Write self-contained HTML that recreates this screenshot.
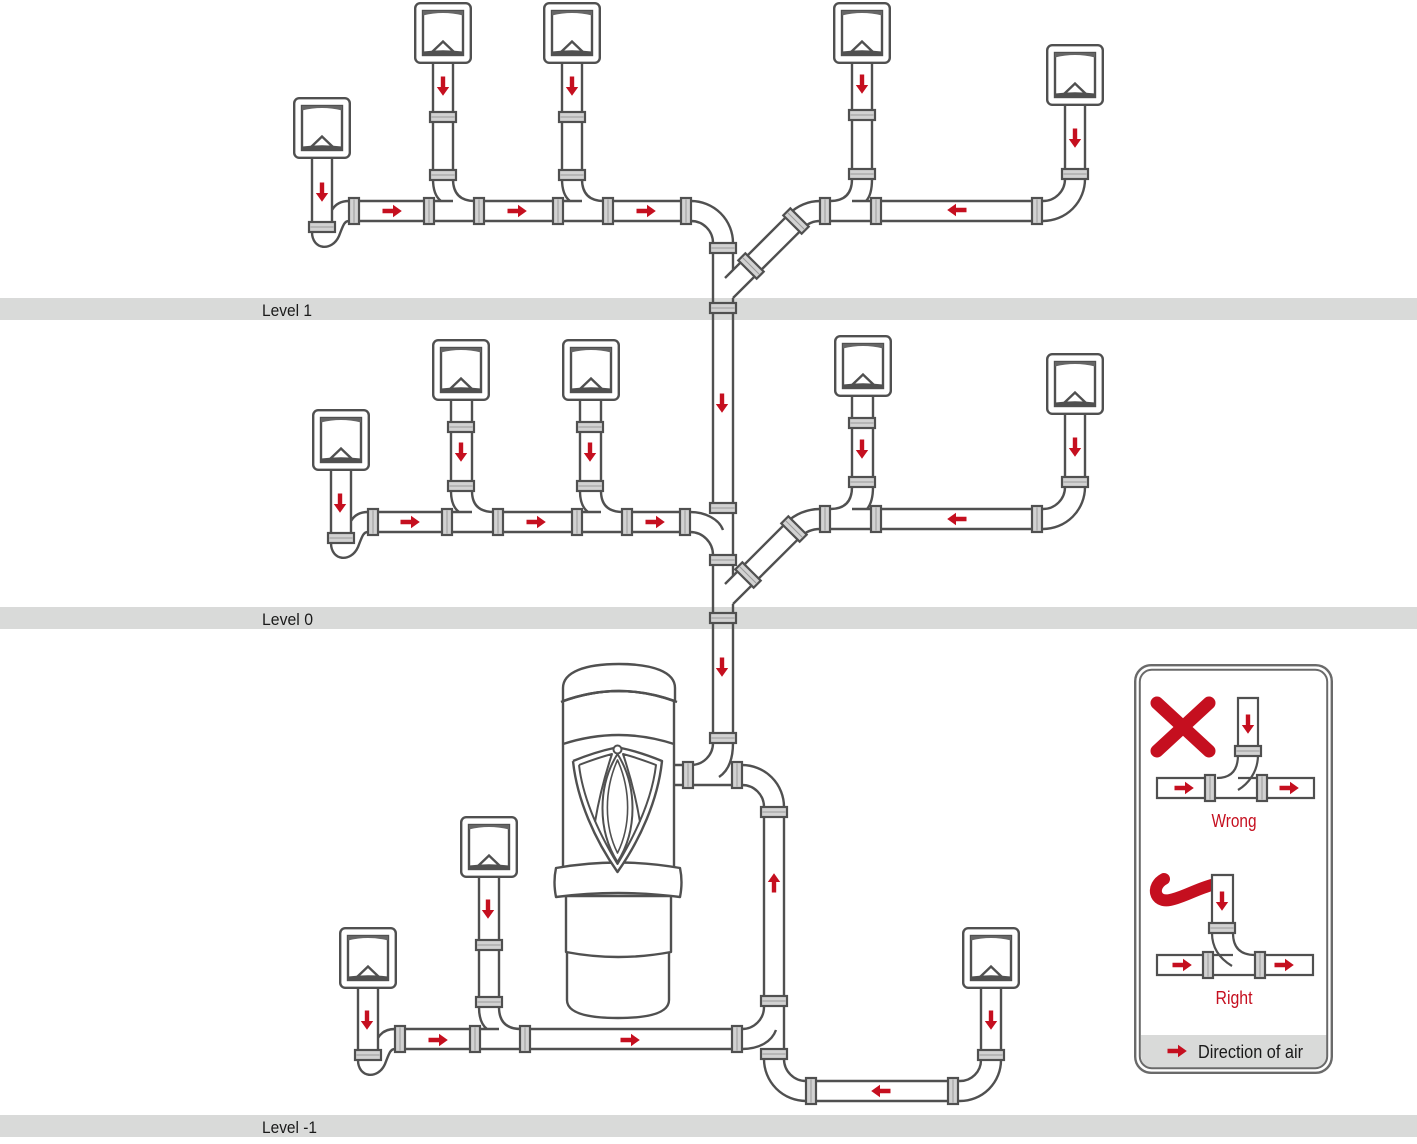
<!DOCTYPE html>
<html>
<head>
<meta charset="utf-8">
<style>
html,body{margin:0;padding:0;background:#fff;}
body{width:1417px;height:1144px;overflow:hidden;}
svg{display:block;}
text{font-family:"Liberation Sans", "DejaVu Sans", sans-serif;}
</style>
</head>
<body>
<svg width="1417" height="1144" viewBox="0 0 1417 1144" xmlns="http://www.w3.org/2000/svg">
<defs>
  <g id="inl">
    <rect x="1.2" y="1.2" width="55.6" height="59.6" rx="5" fill="#fff" stroke="#505050" stroke-width="2.4"/>
    <rect x="9" y="9" width="40" height="44" fill="#fff" stroke="#505050" stroke-width="2.4"/>
    <path d="M9,9 H49 V13.5 Q29,8.5 9,13.5 Z" fill="#666"/>
    <path d="M17,51 L29,39.5 L41,51" fill="none" stroke="#505050" stroke-width="2.4"/>
    <path d="M9,53 V49.5 Q29,47 49,49.5 V53 Z" fill="#505050"/>
  </g>
  <g id="cv">
    <rect x="0" y="0" width="26" height="10" fill="#d2d2d2" stroke="#505050" stroke-width="2.2"/>
    <line x1="1.5" y1="5" x2="24.5" y2="5" stroke="#9a9a9a" stroke-width="1"/>
  </g>
  <g id="ch">
    <rect x="0" y="0" width="10" height="26" fill="#d2d2d2" stroke="#505050" stroke-width="2.2"/>
    <line x1="5" y1="1.5" x2="5" y2="24.5" stroke="#9a9a9a" stroke-width="1"/>
  </g>
  <path id="ar" d="M-9.5,-2.2 H1 V-6.2 L9.8,0 L1,6.2 V2.2 H-9.5 Z" fill="#c50f1f"/>
</defs>

<!-- level bands -->
<rect x="0" y="298" width="1417" height="22" fill="#d9dad9"/>
<rect x="0" y="607" width="1417" height="22" fill="#d9dad9"/>
<rect x="0" y="1115" width="1417" height="22" fill="#d9dad9"/>
<text x="262" y="316" font-size="17" fill="#1a1a1a" textLength="50" lengthAdjust="spacingAndGlyphs">Level 1</text>
<text x="262" y="625" font-size="17" fill="#1a1a1a" textLength="51" lengthAdjust="spacingAndGlyphs">Level 0</text>
<text x="262" y="1133" font-size="17" fill="#1a1a1a" textLength="55" lengthAdjust="spacingAndGlyphs">Level -1</text>

<!-- pipes -->
<g fill="none" stroke="#505050" stroke-width="2.4">
  <!-- Level 1 -->
  <path d="M312,159 V222 M332,159 V222
  M312,232 C312,250 332,252 339,236 C343,226 344,221 349,221
  M332,210 C336,203 342,201 349,201
  M349,201 H453 M475,201 H582 M604,201 H691
  M349,221 H691
  M433,64 V179 M453,64 V179
  M433,179 Q433,195 441,201 M453,179 Q453,201 475,201
  M562,64 V179 M582,64 V179
  M562,179 Q562,195 570,201 M582,179 Q582,201 604,201
  M691,201 A42,42 0 0 1 733,243 M691,221 A22,22 0 0 1 713,243
  M713,253 V503 M733,253 V270 M733,298 V576
  M725,278 L789.2,213.8 A43.5,43.5 0 0 1 820,201
  M733,298 L803.4,227.9 A23.5,23.5 0 0 1 820,221
  M852,201 H1043 M820,221 H1043
  M852,64 V179 M872,64 V179
  M852,179 Q852,201 830,201 M872,179 Q872,195 866,201
  M1065,106 V179 M1085,106 V179
  M1085,179 A42,42 0 0 1 1043,221 M1065,179 A22,22 0 0 1 1043,201"/>
  <!-- Level 0 -->
  <path d="M331,471 V533 M351,471 V533
  M331,543 C331,561 351,563 358,547 C362,537 363,532 368,532
  M351,521 C355,514 361,512 368,512
  M368,512 H472 M494,512 H601 M623,512 H690
  M368,532 H690
  M451,401 V491 M472,401 V491
  M451,491 Q451,506 459,512 M472,491 Q472,512 494,512
  M580,401 V491 M601,401 V491
  M580,491 Q580,506 588,512 M601,491 Q601,512 623,512
  M690,512 C705,512 719,519 723,530
  M690,532 A23,23 0 0 1 713,555
  M713,565 V733 M733,604 V733
  M725,584 L785.8,523.1 A48.3,48.3 0 0 1 820,509
  M733,604 L800,537.3 A28.3,28.3 0 0 1 820,529
  M852,509 H1043 M820,529 H1043
  M852,397 V487 M873,397 V487
  M852,487 Q852,509 830,509 M873,487 Q873,502 867,509
  M1065,415 V487 M1085,415 V487
  M1085,487 A42,42 0 0 1 1043,529 M1065,487 A22,22 0 0 1 1043,509"/>
  <!-- Level -1 -->
  <path d="M713,743 A22,22 0 0 1 691,765
  M733,743 C733,760 728,771 719,777
  M673,765 H691 M673,785 H742
  M742,765 A42,42 0 0 1 784,807 M742,785 A22,22 0 0 1 764,807
  M764,807 V1007 M784,807 V1059
  M742,1029 A22,22 0 0 0 764,1007
  M742,1049 C760,1049 772,1041 776,1030
  M764,1059 A42,42 0 0 0 806,1101 M784,1059 A22,22 0 0 0 806,1081
  M806,1081 H960 M806,1101 H960
  M960,1101 A41,41 0 0 0 1001,1060 M960,1081 A21,21 0 0 0 981,1060
  M981,989 V1060 M1001,989 V1060
  M358,989 V1050 M378,989 V1050
  M358,1060 C358,1078 378,1080 385,1064 C389,1054 390,1049 395,1049
  M378,1038 C382,1031 388,1029 395,1029
  M395,1029 H499 M521,1029 H742 M395,1049 H742
  M479,878 V1007 M499,878 V1007
  M479,1007 Q479,1023 487,1029 M499,1007 Q499,1029 521,1029"/>
</g>

<!-- vertical couplings -->
<use href="#cv" x="309" y="222"/>
<use href="#cv" x="430" y="112"/><use href="#cv" x="430" y="170"/>
<use href="#cv" x="559" y="112"/><use href="#cv" x="559" y="170"/>
<use href="#cv" x="849" y="110"/><use href="#cv" x="849" y="169"/>
<use href="#cv" x="1062" y="169"/>
<use href="#cv" x="710" y="243"/><use href="#cv" x="710" y="303"/><use href="#cv" x="710" y="503"/>
<use href="#cv" x="328" y="533"/>
<use href="#cv" x="448" y="422"/><use href="#cv" x="448" y="481"/>
<use href="#cv" x="577" y="422"/><use href="#cv" x="577" y="481"/>
<use href="#cv" x="849" y="418"/><use href="#cv" x="849" y="477"/>
<use href="#cv" x="1062" y="477"/>
<use href="#cv" x="710" y="555"/><use href="#cv" x="710" y="613"/><use href="#cv" x="710" y="733"/>
<use href="#cv" x="355" y="1050"/>
<use href="#cv" x="476" y="940"/><use href="#cv" x="476" y="997"/>
<use href="#cv" x="761" y="807"/><use href="#cv" x="761" y="996"/><use href="#cv" x="761" y="1049"/>
<use href="#cv" x="978" y="1050"/>

<!-- horizontal couplings -->
<use href="#ch" x="349" y="198"/><use href="#ch" x="424" y="198"/><use href="#ch" x="474" y="198"/>
<use href="#ch" x="553" y="198"/><use href="#ch" x="603" y="198"/><use href="#ch" x="681" y="198"/>
<use href="#ch" x="820" y="198"/><use href="#ch" x="871" y="198"/><use href="#ch" x="1032" y="198"/>
<use href="#ch" x="368" y="509"/><use href="#ch" x="442" y="509"/><use href="#ch" x="493" y="509"/>
<use href="#ch" x="572" y="509"/><use href="#ch" x="622" y="509"/><use href="#ch" x="680" y="509"/>
<use href="#ch" x="820" y="506"/><use href="#ch" x="871" y="506"/><use href="#ch" x="1032" y="506"/>
<use href="#ch" x="395" y="1026"/><use href="#ch" x="470" y="1026"/><use href="#ch" x="520" y="1026"/><use href="#ch" x="732" y="1026"/>
<use href="#ch" x="683" y="762"/><use href="#ch" x="732" y="762"/>
<use href="#ch" x="806" y="1078"/><use href="#ch" x="948" y="1078"/>

<!-- diagonal couplings -->
<use href="#ch" transform="translate(751,266) rotate(-45) translate(-5,-13)"/>
<use href="#ch" transform="translate(796,221) rotate(-45) translate(-5,-13)"/>
<use href="#ch" transform="translate(748,575) rotate(-45) translate(-5,-13)"/>
<use href="#ch" transform="translate(794,529) rotate(-45) translate(-5,-13)"/>

<!-- inlets -->
<use href="#inl" x="293" y="97"/>
<use href="#inl" x="414" y="2"/>
<use href="#inl" x="543" y="2"/>
<use href="#inl" x="833" y="2"/>
<use href="#inl" x="1046" y="44"/>
<use href="#inl" x="312" y="409"/>
<use href="#inl" x="432" y="339"/>
<use href="#inl" x="562" y="339"/>
<use href="#inl" x="834" y="335"/>
<use href="#inl" x="1046" y="353"/>
<use href="#inl" x="339" y="927"/>
<use href="#inl" x="460" y="816"/>
<use href="#inl" x="962" y="927"/>

<!-- central unit -->
<g fill="#fff" stroke="#505050" stroke-width="2.4" stroke-linejoin="round">
  <path d="M567,950 V1000 C567,1014 590,1018 618,1018 C646,1018 669,1014 669,1000 V950 Z"/>
  <path d="M566,896 V952 Q618,962 671,952 V896 Z"/>
  <path d="M563,701 Q619,681 674,701 V868 H563 Z"/>
  <path d="M563,701 V688 C563,672 585,664 619,664 C653,664 675,672 675,688 V701 Q619,681 563,701 Z"/>
  <path d="M561,702 Q619,680 677,702" fill="none"/>
  <path d="M563,744 Q619,726 674,744" fill="none"/>
  <path d="M556,868 Q618,857 680,868 Q683,882 680,897 Q618,889 556,897 Q553,882 556,868 Z"/>
  <!-- shield -->
  <path d="M573,761 Q595,752 614,748 M621,748 Q640,752 662,761 C658,800 640,840 617.5,872 C595,840 577,800 573,761" fill="#fff"/>
  <path d="M579,765 Q597,758 612,754 C605,775 599,798 595,822 M579,765 C583,800 600,835 617.5,864 C635,835 652,800 656,765 Q638,758 623,754 C630,775 636,798 640,822" fill="none" stroke-width="2"/>
  <path d="M617.5,754 C598,785 597,830 617.5,862 C638,830 637,785 617.5,754 Z" fill="none" stroke-width="2"/>
  <path d="M617.5,760 C604,790 604,826 617.5,853 C631,826 631,790 617.5,760 Z" fill="none" stroke-width="1.6"/>
  <circle cx="617.5" cy="749.5" r="4" fill="#fff" stroke-width="2"/>
</g>

<!-- arrows -->
<g>
  <use href="#ar" transform="translate(322,192) rotate(90)"/>
  <use href="#ar" transform="translate(443,86) rotate(90)"/>
  <use href="#ar" transform="translate(572,86) rotate(90)"/>
  <use href="#ar" transform="translate(862,84) rotate(90)"/>
  <use href="#ar" transform="translate(1075,138) rotate(90)"/>
  <use href="#ar" transform="translate(392,211)"/>
  <use href="#ar" transform="translate(517,211)"/>
  <use href="#ar" transform="translate(646,211)"/>
  <use href="#ar" transform="translate(957,210) rotate(180)"/>
  <use href="#ar" transform="translate(722,403) rotate(90)"/>

  <use href="#ar" transform="translate(340,503) rotate(90)"/>
  <use href="#ar" transform="translate(461,452) rotate(90)"/>
  <use href="#ar" transform="translate(590,452) rotate(90)"/>
  <use href="#ar" transform="translate(862,449) rotate(90)"/>
  <use href="#ar" transform="translate(1075,447) rotate(90)"/>
  <use href="#ar" transform="translate(410,522)"/>
  <use href="#ar" transform="translate(536,522)"/>
  <use href="#ar" transform="translate(655,522)"/>
  <use href="#ar" transform="translate(957,519) rotate(180)"/>
  <use href="#ar" transform="translate(722,667) rotate(90)"/>

  <use href="#ar" transform="translate(367,1020) rotate(90)"/>
  <use href="#ar" transform="translate(488,909) rotate(90)"/>
  <use href="#ar" transform="translate(991,1020) rotate(90)"/>
  <use href="#ar" transform="translate(438,1040)"/>
  <use href="#ar" transform="translate(630,1040)"/>
  <use href="#ar" transform="translate(881,1091) rotate(180)"/>
  <use href="#ar" transform="translate(774,883) rotate(-90)"/>
</g>

<!-- legend -->
<g>
  <rect x="1135.2" y="665.2" width="196.6" height="407.6" rx="16" fill="#fff" stroke="#6a6a6a" stroke-width="2.4"/>
  <path d="M1141,1035 H1327 V1055 Q1327,1068 1314,1068 H1154 Q1141,1068 1141,1055 Z" fill="#d9dad9"/>
  <rect x="1139.8" y="669.8" width="187.4" height="398.4" rx="12" fill="none" stroke="#6a6a6a" stroke-width="2"/>

  <!-- red X -->
  <g stroke="#c50f1f" stroke-width="13" stroke-linecap="round">
    <line x1="1157" y1="703" x2="1209" y2="751"/>
    <line x1="1209" y1="703" x2="1157" y2="751"/>
  </g>

  <g fill="none" stroke="#505050" stroke-width="2.2">
    <!-- wrong -->
    <path d="M1238,746 V698 H1258 V746" fill="#fff"/>
    <path d="M1238,755 Q1238,778 1217,778 M1258,755 C1258,772 1248,784 1238,790"/>
    <path d="M1205,778 H1157 V798 H1205" fill="#fff"/>
    <path d="M1238,778 H1257 M1216,798 H1257"/>
    <path d="M1267,778 H1314 V798 H1267" fill="#fff"/>
  </g>
  <use href="#cv" x="1235" y="746"/>
  <use href="#ch" x="1205" y="775"/>
  <use href="#ch" x="1257" y="775"/>
  <use href="#ar" transform="translate(1248,724) rotate(90)"/>
  <use href="#ar" transform="translate(1184,788)"/>
  <use href="#ar" transform="translate(1289,788)"/>
  <text x="1234" y="827" font-size="18" fill="#c50f1f" text-anchor="middle" textLength="45" lengthAdjust="spacingAndGlyphs">Wrong</text>

  <!-- right -->
  <path d="M1164,879 C1151,886 1154,903 1170,900 C1185,897 1200,887 1216,884" fill="none" stroke="#c50f1f" stroke-width="12" stroke-linecap="round"/>
  <g fill="none" stroke="#505050" stroke-width="2.2">
    <path d="M1212,923 V875 H1233 V923" fill="#fff"/>
    <path d="M1233,933 Q1233,955 1255,955 M1212,933 C1212,950 1222,960 1232,966"/>
    <path d="M1203,955 H1157 V975 H1203" fill="#fff"/>
    <path d="M1214,955 H1233 M1214,975 H1255"/>
    <path d="M1265,955 H1313 V975 H1265" fill="#fff"/>
  </g>
  <use href="#cv" x="1209" y="923"/>
  <use href="#ch" x="1203" y="952"/>
  <use href="#ch" x="1255" y="952"/>
  <use href="#ar" transform="translate(1222,901) rotate(90)"/>
  <use href="#ar" transform="translate(1182,965)"/>
  <use href="#ar" transform="translate(1284,965)"/>
  <text x="1234" y="1004" font-size="18" fill="#c50f1f" text-anchor="middle" textLength="37" lengthAdjust="spacingAndGlyphs">Right</text>

  <use href="#ar" transform="translate(1177,1051)"/>
  <text x="1198" y="1058" font-size="18" fill="#1a1a1a" textLength="105" lengthAdjust="spacingAndGlyphs">Direction of air</text>
</g>
</svg>
</body>
</html>
